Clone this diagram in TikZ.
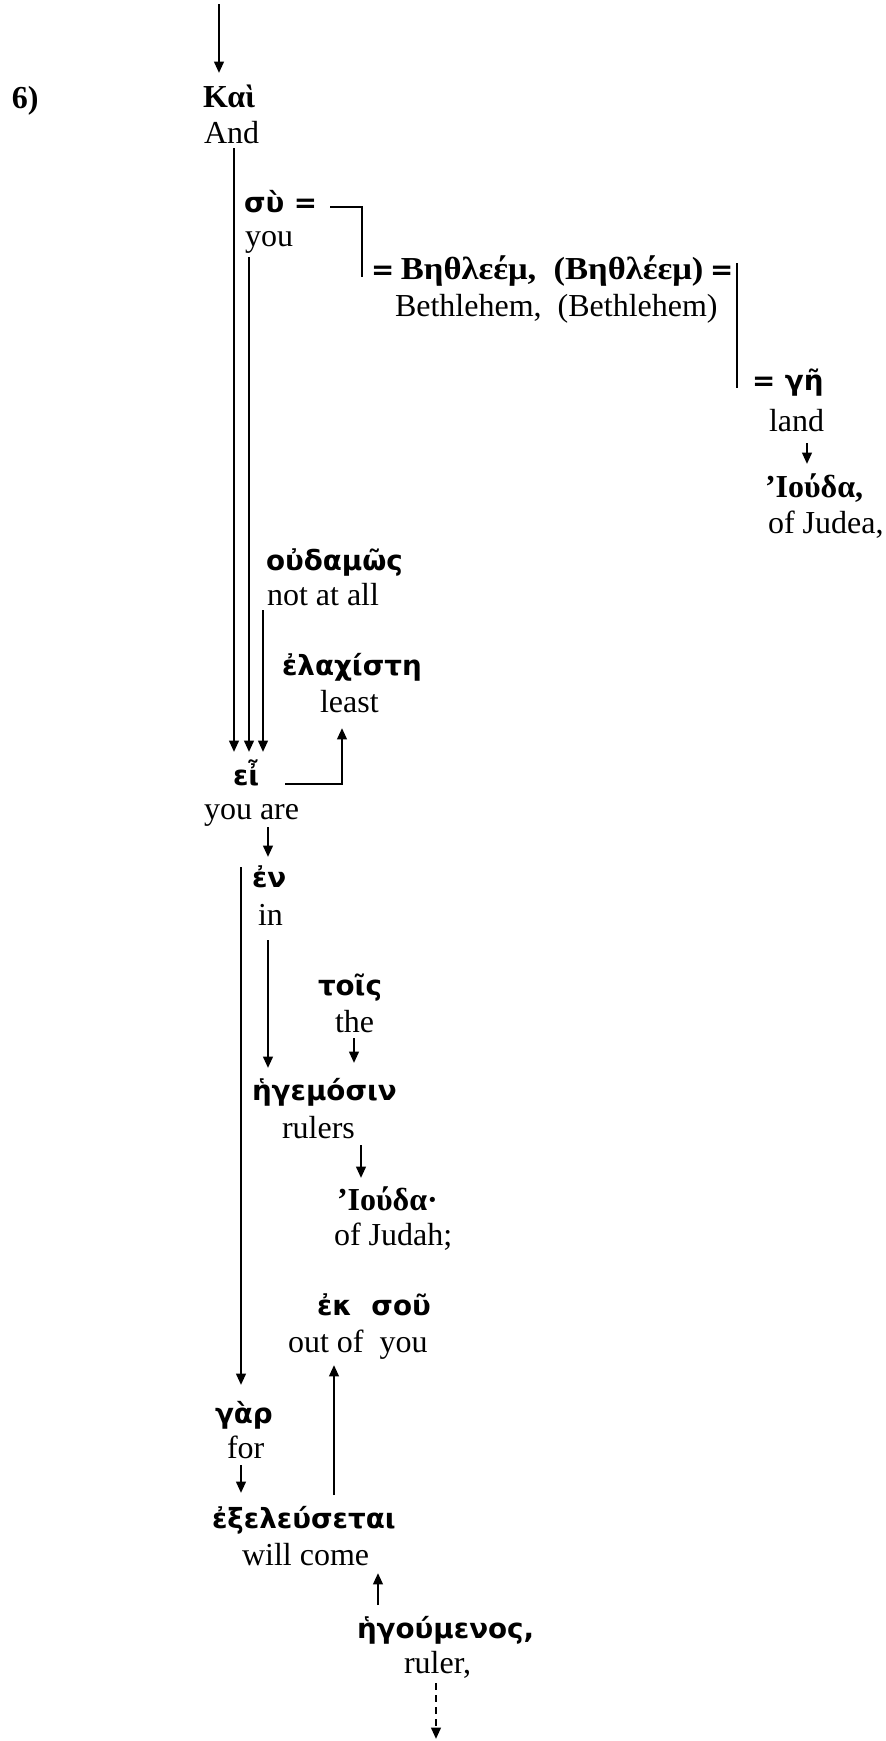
\documentclass[tikz,border=0pt]{standalone}
\usepackage{fontspec}
\setmainfont{Liberation Serif}
\newfontfamily\gksans{DejaVu Sans}
\usetikzlibrary{arrows.meta,calc}
\tikzset{
  lbl/.style={inner sep=0pt, outer sep=0pt, anchor=base west},
  gk/.style={lbl, font=\gksans\bfseries\fontsize{10.4}{12}\selectfont},
  gs/.style={lbl, font=\bfseries\fontsize{12}{14}\selectfont},
  en/.style={lbl, font=\fontsize{12}{14}\selectfont},
  con/.style={line width=0.9pt},
  brk/.style={line width=0.6pt},
  arr/.style={con, -{Triangle[length=4.3pt,width=3.6pt]}},
  dasharr/.style={arr, dash pattern=on 2.6pt off 1.9pt},
}
\begin{document}
\begin{tikzpicture}[x=0.375pt, y=-0.375pt]
\useasboundingbox (0,0) rectangle (885,1741);

% nodes
\node[gs] (six) at (12,108) {6)};
\node[gs] (kai) at (203,107) {Καὶ};
\node[en] (and) at (204,143) {And};
\node[gk] (su) at (244,212) {σὺ =};
\node[en] (you1) at (245,246) {you};
\node[lbl] (beth) at (371,279) {{\gksans\bfseries\fontsize{10.4}{12}\selectfont =} \scalebox{1.08}[1]{\bfseries\fontsize{12}{14}\selectfont Βηθλεέμ,\ \ (Βηθλέεμ)} {\gksans\bfseries\fontsize{10.4}{12}\selectfont =}};
\node[en] (bethE) at (395,316) {Bethlehem,\ \ (Bethlehem)};
\node[gk] (ge) at (752,390) {= γῆ};
\node[en] (land) at (769,431) {land};
\node[gs] (iouda1) at (765,497) {’Ιούδα,};
\node[en] (judea) at (768,533) {of Judea,};
\node[gk] (oudamos) at (266,570) {οὐδαμῶς};
\node[en] (notatall) at (267,605) {not at all};
\node[gk] (elach) at (282,675) {ἐλαχίστη};
\node[en] (least) at (320,712) {least};
\node[gk] (ei) at (233,785) {εἶ};
\node[en] (youare) at (204,819) {you are};
\node[gk] (en) at (252,887) {ἐν};
\node[en] (in) at (258,925) {in};
\node[gk] (tois) at (318,995) {τοῖς};
\node[en] (the) at (335,1032) {the};
\node[gk] (hegemosin) at (252,1100) {ἡγεμόσιν};
\node[en] (rulers) at (282,1138) {rulers};
\node[gs] (iouda2) at (337,1210) {’Ιούδα·};
\node[en] (judah) at (334,1245) {of Judah;};
\node[gk] (ekso) at (317,1315) {ἐκ\ \ σοῦ};
\node[en] (outof) at (288,1352) {out of\ \ you};
\node[gk] (gar) at (215,1423) {γὰρ};
\node[en] (for) at (227,1458) {for};
\node[gk] (exel) at (212,1528) {ἐξελεύσεται};
\node[en] (willcome) at (242,1565) {will come};
\node[gk] (hegoum) at (357,1638) {ἡγούμενος,};
\node[en] (ruler) at (404,1673) {ruler,};

\coordinate (top) at (219,4);
\coordinate (bottom) at (436,1739);

% connectors
\draw[arr] (top) -- ($(top |- kai.base)+(0,-34)$);
\draw[arr] ($(and.base west)+(30,5)$) -- ($(and.base west |- ei.base)+(30,-33)$);
\draw[arr] ($(you1.base west)+(4,11)$) -- ($(you1.base west |- ei.base)+(4,-33)$);
\draw[arr] ($(notatall.base west)+(-4,5)$) -- ($(notatall.base west |- ei.base)+(-4,-33)$);

\draw[brk] ($(su.base east)+(13,-5)$) -| ($(beth.base west)+(-9,-2)$);
\coordinate (br1) at ($(ge.base west |- beth.base)+(-15,-16)$);
\draw[brk] (br1) -- ($(br1 |- ge.base)+(0,-2)$);

\draw[arr] ($(land.base west)+(38,12)$) -- ($(land.base west |- iouda1.base)+(38,-33)$);

\draw[arr] ($(ei.base east)+(26,-1)$) -| ($(least.base west)+(22,16)$);

\draw[arr] ($(youare.base west)+(64,8)$) -- ($(youare.base west |- en.base)+(64,-30)$);
\draw[arr] ($(en.base west)+(-11,-20)$) -- ($(en.base west |- gar.base)+(-11,-38)$);
\draw[arr] ($(in.base west)+(10,15)$) -- ($(in.base west |- hegemosin.base)+(10,-32)$);
\draw[arr] ($(the.base west)+(19,6)$) -- ($(the.base west |- hegemosin.base)+(19,-37)$);
\draw[arr] ($(rulers.base west)+(79,7)$) -- ($(rulers.base west |- iouda2.base)+(79,-32)$);

\draw[arr] ($(exel.base west)+(122,-33)$) -- ($(exel.base west |- outof.base)+(122,13)$);
\draw[arr] ($(for.base west)+(14,7)$) -- ($(for.base west |- exel.base)+(14,-35)$);
\draw[arr] ($(hegoum.base west)+(21,-33)$) -- ($(hegoum.base west |- willcome.base)+(21,8)$);
\draw[dasharr] ($(ruler.base west)+(32,10)$) -- (bottom);
\end{tikzpicture}
\end{document}
